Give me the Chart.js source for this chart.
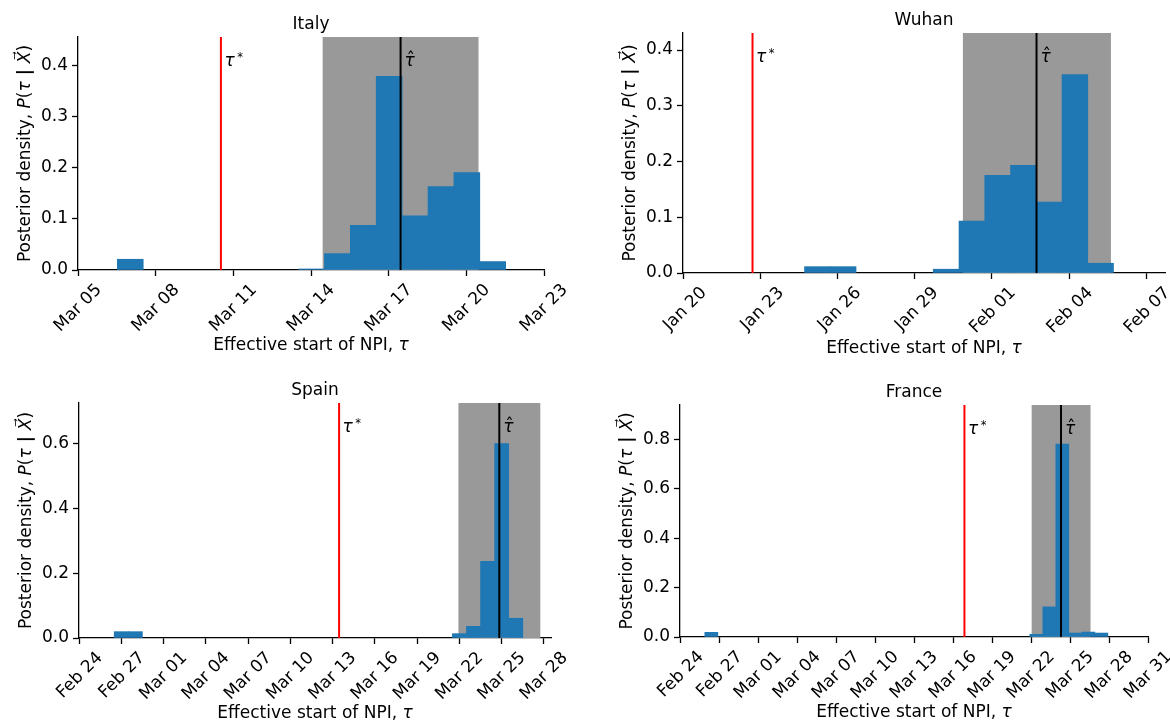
<!DOCTYPE html>
<html>
<head>
<meta charset="utf-8">
<script src="https://cdn.jsdelivr.net/npm/chart.js@4.4.1/dist/chart.umd.min.js"></script>
<style>
  html, body { margin: 0; padding: 0; background: #fff; }
  #page { position: relative; width: 1170px; height: 724px; overflow: hidden; }
  .panel { position: absolute; width: 585px; height: 362px; }
  .panel canvas { display: block; }
</style>
</head>
<body>
<div id="page">
  <div class="panel" style="left:0;top:0"><canvas id="italy" width="585" height="362"></canvas></div>
  <div class="panel" style="left:585px;top:0"><canvas id="wuhan" width="585" height="362"></canvas></div>
  <div class="panel" style="left:0;top:362px"><canvas id="spain" width="585" height="362"></canvas></div>
  <div class="panel" style="left:585px;top:362px"><canvas id="france" width="585" height="362"></canvas></div>
</div>
<script>
(function () {
  const FONT = '"DejaVu Sans", sans-serif';
  const FONT_SIZE = 17;
  const BAR_BLUE = '#1f77b4';
  const HDI_GREY = '#999999';

  // x values are days counted from the first tick label of each panel
  const italyTicks = ['Mar 05', 'Mar 08', 'Mar 11', 'Mar 14', 'Mar 17', 'Mar 20', 'Mar 23'];
  const italyBins = [2.02, 9.02, 10.02, 11.02, 12.02, 13.02, 14.02, 15.02, 16.02];
  const italyDensity = [0.021, 0.002, 0.032, 0.087, 0.378, 0.106, 0.163, 0.19, 0.0165];
  const italyHdi = [9.45, 15.47];
  const italyTauStar = 5.52;
  const italyTauHat = 12.46;

  const wuhanTicks = ['Jan 20', 'Jan 23', 'Jan 26', 'Jan 29', 'Feb 01', 'Feb 04', 'Feb 07'];
  const wuhanBins = [5.22, 6.22, 10.22, 11.22, 12.22, 13.22, 14.22, 15.22, 16.22];
  const wuhanDensity = [0.0114, 0.0114, 0.0068, 0.093, 0.175, 0.193, 0.127, 0.356, 0.0175];
  const wuhanHdi = [10.87, 16.62];
  const wuhanTauStar = 2.7;
  const wuhanTauHat = 13.73;

  const spainTicks = ['Feb 24', 'Feb 27', 'Mar 01', 'Mar 04', 'Mar 07', 'Mar 10', 'Mar 13',
    'Mar 16', 'Mar 19', 'Mar 22', 'Mar 25', 'Mar 28'];
  const spainBins = [3, 4, 27, 28, 29, 30, 31];
  const spainDensity = [0.0196, 0.0196, 0.0134, 0.036, 0.237, 0.601, 0.061];
  const spainHdi = [26.93, 32.74];
  const spainTauStar = 18.46;
  const spainTauHat = 29.83;

  const franceTicks = ['Feb 24', 'Feb 27', 'Mar 01', 'Mar 04', 'Mar 07', 'Mar 10', 'Mar 13',
    'Mar 16', 'Mar 19', 'Mar 22', 'Mar 25', 'Mar 28', 'Mar 31'];
  const franceBins = [2.41, 27.41, 28.41, 29.41, 30.41, 31.41, 32.41];
  const franceDensity = [0.019, 0.011, 0.122, 0.782, 0.016, 0.02, 0.016];
  const franceHdi = [27.05, 31.58];
  const franceTauStar = 21.88;
  const franceTauHat = 29.31;

  const TICK_STEP_DAYS = 3;

  const PANELS = [
    { id: 'italy', title: 'Italy', ticks: italyTicks, bins: italyBins, density: italyDensity,
      hdi: italyHdi, tauStar: italyTauStar, tauHat: italyTauHat, xMax: 18, yMax: 0.455, yStep: 0.1,
      area: { left: 78, right: 544, top: 37, bottom: 270 } },
    { id: 'wuhan', title: 'Wuhan', ticks: wuhanTicks, bins: wuhanBins, density: wuhanDensity,
      hdi: wuhanHdi, tauStar: wuhanTauStar, tauHat: wuhanTauHat, xMax: 18.72, yMax: 0.4305, yStep: 0.1,
      area: { left: 98, right: 580, top: 33, bottom: 273 } },
    { id: 'spain', title: 'Spain', ticks: spainTicks, bins: spainBins, density: spainDensity,
      hdi: spainHdi, tauStar: spainTauStar, tauHat: spainTauHat, xMax: 33.5, yMax: 0.726, yStep: 0.2,
      area: { left: 79, right: 551, top: 41, bottom: 276 } },
    { id: 'france', title: 'France', ticks: franceTicks, bins: franceBins, density: franceDensity,
      hdi: franceHdi, tauStar: franceTauStar, tauHat: franceTauHat, xMax: 36, yMax: 0.94, yStep: 0.2,
      area: { left: 95, right: 563, top: 43, bottom: 275 } }
  ];

  function fontFor(style, size) {
    const prefix = style === 'i' ? 'italic ' : style === 'b' ? 'bold ' : '';
    return prefix + size + 'px ' + FONT;
  }

  // draws [text, style] pieces on one baseline, centred on x = 0 of the current transform
  function drawRich(ctx, segs, size) {
    let total = 0;
    segs.forEach(([t, s]) => {
      ctx.font = fontFor(s, size);
      total += ctx.measureText(t).width;
    });
    let x = -total / 2;
    ctx.textAlign = 'left';
    segs.forEach(([t, s]) => {
      ctx.font = fontFor(s, size);
      ctx.fillText(t, x, 0);
      x += ctx.measureText(t).width;
    });
  }

  const X_LABEL = [['Effective start of NPI, ', 'n'], ['\u03c4', 'i']];
  const Y_LABEL = [['Posterior density, ', 'n'], ['P', 'i'], ['(', 'n'], ['\u03c4', 'i'],
    [' | ', 'b'], ['X\u20d7', 'i'], [')', 'n']];

  const annotate = {
    id: 'annotate',
    beforeDatasetsDraw(chart, args, opts) {
      const { ctx, chartArea: a, scales: { x } } = chart;
      const p = opts.panel;
      const x0 = x.getPixelForValue(p.hdi[0]);
      const x1 = x.getPixelForValue(p.hdi[1]);
      ctx.save();
      ctx.fillStyle = HDI_GREY;
      ctx.fillRect(x0, a.top, x1 - x0, a.bottom - a.top);
      ctx.restore();
    },
    afterDatasetsDraw(chart, args, opts) {
      const { ctx, chartArea: a, scales: { x } } = chart;
      const p = opts.panel;
      ctx.save();
      ctx.lineWidth = 2;
      [[p.tauStar, '#ff0000'], [p.tauHat, '#000000']].forEach(([v, c]) => {
        const px = x.getPixelForValue(v);
        ctx.strokeStyle = c;
        ctx.beginPath();
        ctx.moveTo(px, a.bottom);
        ctx.lineTo(px, a.top);
        ctx.stroke();
      });
      ctx.restore();
    },
    afterDraw(chart, args, opts) {
      const { ctx, chartArea: a, scales: { x } } = chart;
      const p = opts.panel;
      const cx = (a.left + a.right) / 2;
      ctx.save();
      ctx.fillStyle = '#000';
      ctx.textBaseline = 'alphabetic';

      // title
      ctx.font = fontFor('n', FONT_SIZE);
      ctx.textAlign = 'center';
      ctx.fillText(p.title, cx, a.top - 8);

      // x label
      ctx.save();
      ctx.translate(cx, a.bottom + 80);
      drawRich(ctx, X_LABEL, FONT_SIZE);
      ctx.restore();

      // y label
      ctx.save();
      ctx.translate(a.left - 48.5, (a.top + a.bottom) / 2);
      ctx.rotate(-Math.PI / 2);
      drawRich(ctx, Y_LABEL, FONT_SIZE);
      ctx.restore();

      // tau labels next to the lines
      const base = a.top + 29;
      ctx.textAlign = 'left';
      const sx = x.getPixelForValue(p.tauStar) + 3.5;
      ctx.font = fontFor('i', FONT_SIZE);
      ctx.fillText('\u03c4', sx, base);
      const tw = ctx.measureText('\u03c4').width;
      ctx.font = fontFor('n', 11.5);
      ctx.fillText('*', sx + tw + 2.5, base - 5);

      const hx = x.getPixelForValue(p.tauHat) + 4;
      ctx.font = fontFor('i', FONT_SIZE);
      ctx.fillText('\u03c4', hx, base);
      const hw = ctx.measureText('\u03c4').width;
      ctx.font = fontFor('n', FONT_SIZE);
      ctx.textAlign = 'center';
      ctx.fillText('\u02c6', hx + hw / 2 + 1, base - 1.5);
      ctx.restore();
    }
  };

  function axisStyle() {
    return {
      grid: { display: true, drawOnChartArea: false, drawTicks: true, tickLength: 6,
        tickWidth: 1.3, tickColor: '#000', offset: false },
      border: { display: true, color: '#000', width: 1.3 }
    };
  }

  PANELS.forEach((p) => {
    const canvas = document.getElementById(p.id);
    const W = canvas.width;
    const H = canvas.height;
    const a = p.area;

    new Chart(canvas, {
      type: 'bar',
      data: {
        datasets: [
          {
            data: p.bins.map((b, i) => ({ x: b, y: p.density[i] })),
            backgroundColor: BAR_BLUE,
            borderWidth: 0,
            barPercentage: 1,
            categoryPercentage: 1
          }
        ]
      },
      options: {
        responsive: false,
        animation: false,
        events: [],
        layout: { padding: { top: a.top, right: W - a.right, bottom: 0, left: 0 } },
        plugins: {
          legend: { display: false },
          tooltip: { enabled: false },
          annotate: { panel: p }
        },
        scales: {
          x: Object.assign(axisStyle(), {
            type: 'linear',
            min: 0,
            max: p.xMax,
            offset: false,
            z: 1,
            afterBuildTicks: (s) => {
              s.ticks = p.ticks.map((_, i) => ({ value: i * TICK_STEP_DAYS }));
            },
            afterFit: (s) => {
              s.height = H - a.bottom;
              s.paddingLeft = 0;
              s.paddingRight = 0;
            },
            ticks: {
              autoSkip: false,
              minRotation: 45,
              maxRotation: 45,
              labelOffset: 21,
              padding: 4,
              color: '#000',
              font: { family: FONT, size: FONT_SIZE },
              callback: (v, i) => p.ticks[i]
            }
          }),
          y: Object.assign(axisStyle(), {
            min: 0,
            max: p.yMax,
            z: 1,
            afterFit: (s) => {
              s.width = a.left;
              s.paddingTop = 0;
              s.paddingBottom = 0;
            },
            ticks: {
              stepSize: p.yStep,
              includeBounds: false,
              padding: 4,
              color: '#000',
              font: { family: FONT, size: FONT_SIZE },
              callback: (v) => Number(v).toFixed(1)
            }
          })
        }
      },
      plugins: [annotate]
    });
  });
})();
</script>
</body>
</html>
